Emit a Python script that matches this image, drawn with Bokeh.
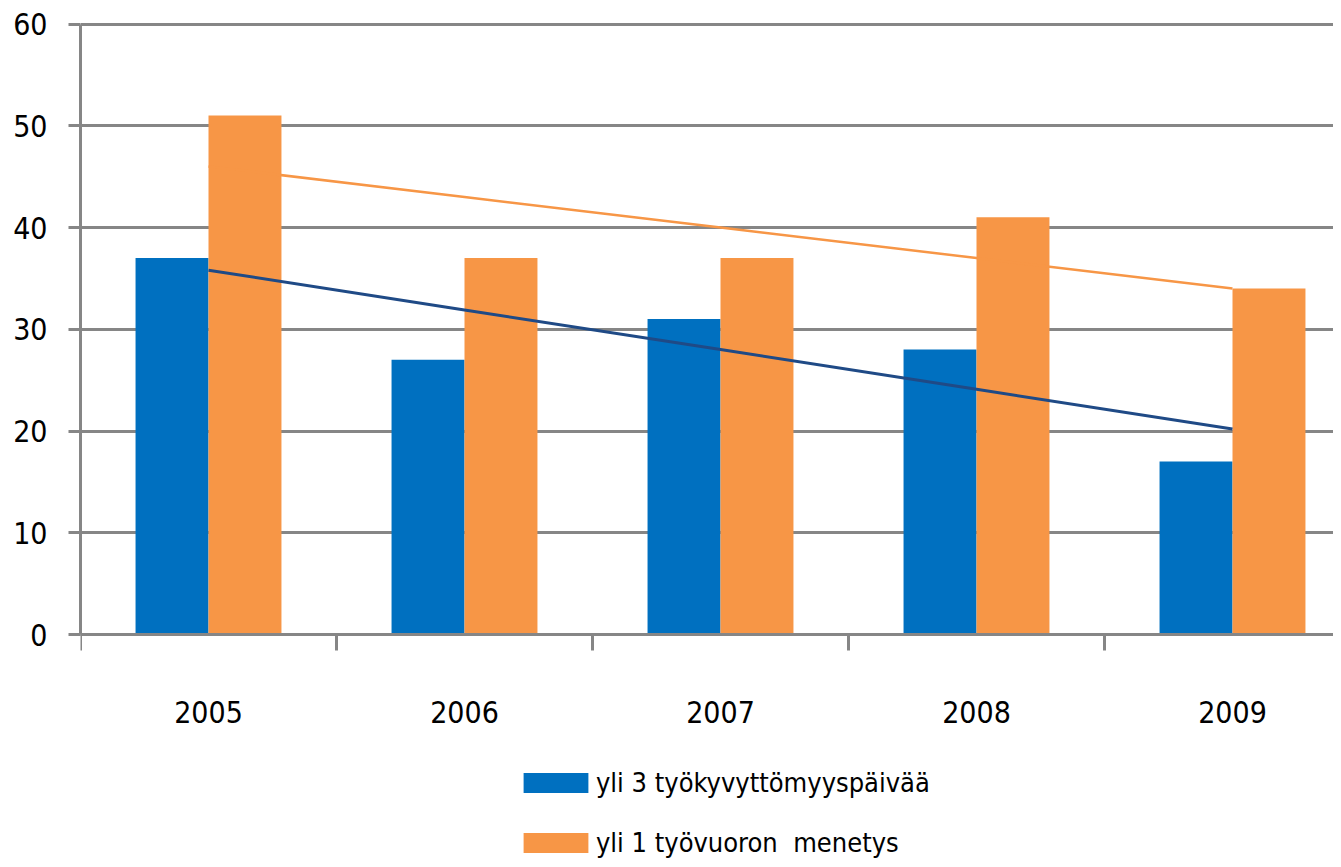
import numpy as np
from bokeh.plotting import figure
from bokeh.models import Range1d, FixedTicker, Legend, LegendItem, ColumnDataSource
from bokeh.transform import dodge
from bokeh.embed import file_html
from bokeh.resources import INLINE

years = ["2005", "2006", "2007", "2008", "2009"]
sick_days = [37, 27, 31, 28, 17]      # yli 3 työkyvyttömyyspäivää
lost_shift = [51, 37, 37, 41, 34]     # yli 1 työvuoron menetys
series_names = ["yli 3 työkyvyttömyyspäivää", "yli 1 työvuoron  menetys"]
y_ticks = [0, 10, 20, 30, 40, 50, 60]

BLUE = "#0070C0"
ORANGE = "#F79646"
BLUE_TREND = "#1F4A86"
GRID = "#868686"
FONT = "DejaVu Sans Condensed"

n = len(years)
centers = np.arange(n) + 0.5
bw = 0.285

W, H = 1333, 859
left, top = 80, 18
px_per_unit = (634 - 23.5) / 60.0
y_lo = -(H - 634) / px_per_unit
y_hi = 60 + (23.5 - top) / px_per_unit
x_hi = (W - left) / 256.0

p = figure(width=W, height=H, output_backend="svg", toolbar_location=None,
           x_range=Range1d(0, x_hi), y_range=Range1d(y_lo, y_hi),
           min_border_left=left, min_border_right=0, min_border_top=top, min_border_bottom=0)
p.outline_line_color = None
p.background_fill_color = "white"

src = ColumnDataSource(dict(x=centers, sick=sick_days, lost=lost_shift))
r1 = p.vbar(x=dodge("x", -bw / 2), top="sick", width=bw, bottom=0, source=src,
            fill_color=BLUE, line_color=None)
r2 = p.vbar(x=dodge("x", bw / 2), top="lost", width=bw, bottom=0, source=src,
            fill_color=ORANGE, line_color=None)

# linear trend lines
xi = np.arange(n)
for vals, col, lw in ((sick_days, BLUE_TREND, 3), (lost_shift, ORANGE, 2.5)):
    k, b = np.polyfit(xi, vals, 1)
    p.line(centers, k * xi + b, line_color=col, line_width=lw)

# y axis / grid
p.yaxis.ticker = FixedTicker(ticks=y_ticks)
p.yaxis.bounds = (0, 60)
p.yaxis.axis_line_color = GRID
p.yaxis.axis_line_width = 3
p.yaxis.major_tick_line_color = GRID
p.yaxis.major_tick_line_width = 3
p.yaxis.major_tick_out = 12
p.yaxis.major_tick_in = 0
p.yaxis.minor_tick_line_color = None
p.yaxis.major_label_standoff = 21
p.yaxis.major_label_text_font = FONT
p.yaxis.major_label_text_font_size = "30px"
p.yaxis.major_label_text_color = "black"
p.ygrid.grid_line_color = GRID
p.ygrid.grid_line_width = 3
p.ygrid.ticker = FixedTicker(ticks=y_ticks)

# x axis at value 0
p.xaxis.fixed_location = 0
p.xaxis.ticker = FixedTicker(ticks=list(centers), minor_ticks=list(range(n + 1)))
p.xaxis.major_label_overrides = {float(c): y for c, y in zip(centers, years)}
p.xaxis.axis_line_color = GRID
p.xaxis.axis_line_width = 3
p.xaxis.major_tick_line_color = None
p.xaxis.major_tick_out = 0
p.xaxis.major_tick_in = 0
p.xaxis.minor_tick_line_color = GRID
p.xaxis.minor_tick_line_width = 3
p.xaxis.minor_tick_out = 16
p.xaxis.minor_tick_in = 0
p.xaxis.major_label_standoff = 50
p.xaxis.major_label_text_font = FONT
p.xaxis.major_label_text_font_size = "30px"
p.xaxis.major_label_text_color = "black"
p.xgrid.grid_line_color = None

legend = Legend(items=[LegendItem(label=series_names[0], renderers=[r1]),
                       LegendItem(label=series_names[1], renderers=[r2])],
                location=(435, 1), orientation="vertical")
legend.glyph_width = 81
legend.glyph_height = 25
legend.label_text_font = FONT
legend.label_text_font_size = "27px"
legend.label_text_color = "black"
legend.label_standoff = 0
legend.spacing = 29
legend.padding = 0
legend.margin = 0
legend.border_line_color = None
legend.background_fill_alpha = 0
p.add_layout(legend, "center")

open("out.html", "w").write(file_html(p, INLINE))
